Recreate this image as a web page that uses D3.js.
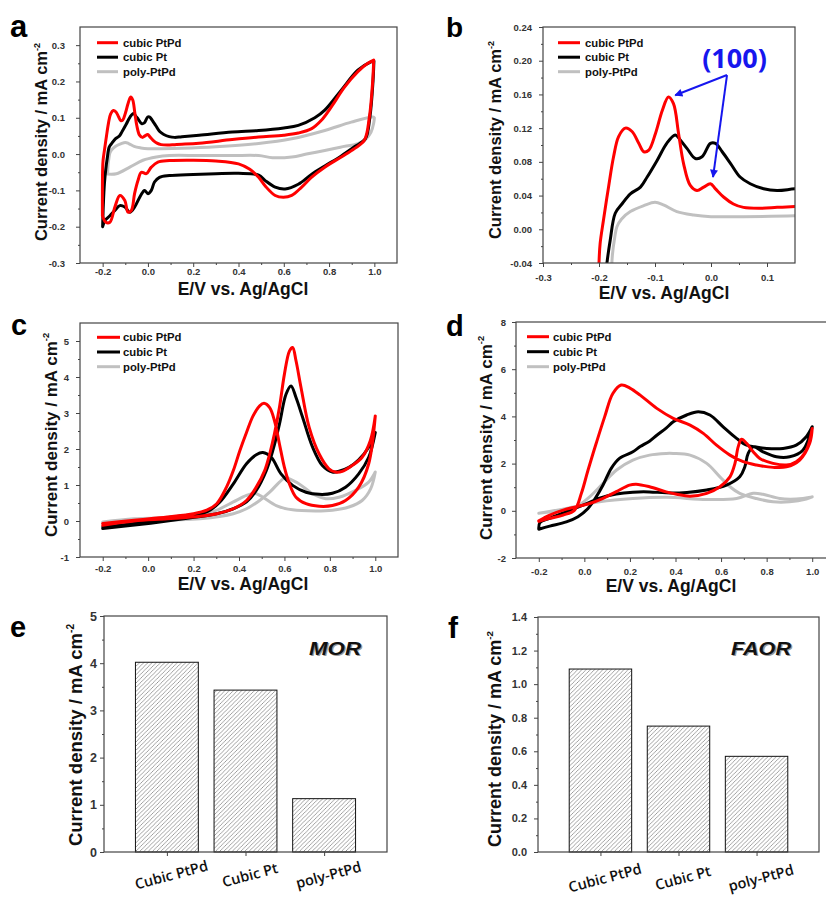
<!DOCTYPE html>
<html><head><meta charset="utf-8">
<script src="https://cdn.jsdelivr.net/npm/d3@7/dist/d3.min.js"></script>
<style>body{margin:0;background:#fff}svg{display:block}</style>
</head><body>
<svg id="fig" width="826" height="898"></svg>
<script>
// ================= DATA =================
const seriesNames = ["cubic PtPd", "cubic Pt", "poly-PtPd"];
const seriesColors = ["#ff0000", "#000000", "#c0c0c0"];

// (a)/(b) CV in acid: [E (V), j (mA cm-2)]
const hupdPtPdAnodic = [[-0.201,-0.17],[-0.201,-0.1],[-0.2,-0.04],[-0.198,-0.017],[-0.192,0.011],[-0.183,0.05],[-0.174,0.086],[-0.165,0.11],[-0.153,0.12],[-0.141,0.116],[-0.129,0.102],[-0.12,0.092],[-0.111,0.094],[-0.099,0.114],[-0.087,0.141],[-0.076,0.157],[-0.067,0.149],[-0.058,0.114],[-0.049,0.078],[-0.037,0.052],[-0.025,0.046],[-0.013,0.05],[-0.001,0.054],[0.008,0.048],[0.023,0.038],[0.04,0.03],[0.058,0.026],[0.088,0.025],[0.118,0.026],[0.15,0.027],[0.226,0.03],[0.372,0.04],[0.489,0.047],[0.6,0.052],[0.664,0.058],[0.723,0.07],[0.766,0.093],[0.81,0.13],[0.869,0.185],[0.927,0.227],[0.971,0.25],[0.997,0.259]];
const hupdPtPdCathodic = [[0.997,0.259],[0.993,0.204],[0.978,0.102],[0.956,0.038],[0.912,0.015],[0.854,-0.008],[0.781,-0.036],[0.722,-0.064],[0.679,-0.091],[0.635,-0.114],[0.598,-0.119],[0.562,-0.114],[0.518,-0.088],[0.489,-0.064],[0.45,-0.042],[0.4,-0.027],[0.3,-0.019],[0.2,-0.017],[0.095,-0.018],[0.044,-0.022],[0.015,-0.036],[-0.007,-0.054],[-0.029,-0.05],[-0.044,-0.073],[-0.059,-0.109],[-0.073,-0.155],[-0.088,-0.16],[-0.102,-0.128],[-0.124,-0.114],[-0.146,-0.146],[-0.168,-0.188],[-0.186,-0.188],[-0.201,-0.17]];
const hupdPtAnodic = [[-0.2,-0.2],[-0.197,-0.14],[-0.192,-0.08],[-0.186,-0.041],[-0.18,-0.013],[-0.171,0.019],[-0.159,0.03],[-0.144,0.042],[-0.126,0.05],[-0.114,0.062],[-0.096,0.082],[-0.079,0.102],[-0.064,0.112],[-0.055,0.106],[-0.043,0.096],[-0.028,0.084],[-0.016,0.086],[-0.001,0.102],[0.008,0.102],[0.02,0.092],[0.035,0.078],[0.052,0.062],[0.07,0.054],[0.094,0.048],[0.118,0.046],[0.15,0.048],[0.226,0.052],[0.372,0.061],[0.489,0.065],[0.6,0.072],[0.664,0.079],[0.737,0.1],[0.781,0.121],[0.854,0.176],[0.927,0.231],[0.985,0.254],[0.998,0.256]];
const hupdPtCathodic = [[0.998,0.256],[0.994,0.2],[0.98,0.1],[0.96,0.042],[0.912,0.02],[0.854,-0.005],[0.781,-0.033],[0.722,-0.056],[0.664,-0.083],[0.606,-0.096],[0.562,-0.091],[0.518,-0.073],[0.489,-0.058],[0.4,-0.053],[0.3,-0.054],[0.2,-0.056],[0.095,-0.059],[0.051,-0.064],[0.029,-0.077],[0.015,-0.1],[0.0,-0.109],[-0.015,-0.1],[-0.032,-0.114],[-0.059,-0.146],[-0.08,-0.16],[-0.102,-0.146],[-0.124,-0.142],[-0.146,-0.155],[-0.168,-0.17],[-0.19,-0.183],[-0.2,-0.2]];
const hupdPolyAnodic = [[-0.178,-0.055],[-0.176,-0.03],[-0.172,-0.01],[-0.168,0.003],[-0.16,0.012],[-0.144,0.021],[-0.12,0.028],[-0.1,0.032],[-0.085,0.029],[-0.061,0.021],[-0.031,0.017],[0.0,0.015],[0.058,0.015],[0.15,0.016],[0.3,0.02],[0.489,0.029],[0.635,0.042],[0.781,0.065],[0.898,0.088],[0.993,0.102],[1.0,0.1]];
const hupdPolyCathodic = [[1.0,0.1],[0.997,0.085],[0.985,0.06],[0.96,0.04],[0.927,0.029],[0.85,0.019],[0.781,0.01],[0.7,0.0],[0.635,-0.008],[0.55,-0.01],[0.489,-0.004],[0.372,-0.004],[0.226,-0.004],[0.095,-0.004],[0.037,-0.008],[-0.022,-0.017],[-0.08,-0.036],[-0.139,-0.054],[-0.178,-0.055]];

// (c) methanol oxidation CV
const morPtPdA = [[-0.2,-0.07],[-0.062,0.02],[0.084,0.11],[0.2,0.2],[0.258,0.3],[0.302,0.48],[0.345,0.94],[0.375,1.4],[0.404,1.96],[0.433,2.46],[0.462,2.92],[0.491,3.2],[0.51,3.27],[0.535,3.15],[0.556,2.79],[0.578,2.14],[0.6,1.49],[0.622,1.03],[0.651,0.66],[0.695,0.48],[0.753,0.41],[0.811,0.43],[0.869,0.57],[0.927,0.94],[0.971,1.59],[1.0,2.92]];
const morPtPdB = [[1.0,2.92],[0.978,2.23],[0.942,1.77],[0.898,1.54],[0.855,1.38],[0.825,1.36],[0.796,1.45],[0.753,1.86],[0.709,2.6],[0.673,3.71],[0.651,4.45],[0.636,4.82],[0.622,4.72],[0.6,4.08],[0.578,3.15],[0.556,2.42],[0.535,1.86],[0.513,1.4],[0.476,0.94],[0.433,0.57],[0.375,0.34],[0.302,0.2],[0.229,0.13],[0.084,0.06],[-0.062,0.0],[-0.2,-0.12]];
const morPtA = [[-0.2,-0.17],[-0.062,-0.07],[0.084,0.09],[0.2,0.18],[0.258,0.25],[0.316,0.53],[0.375,1.03],[0.433,1.59],[0.476,1.84],[0.505,1.9],[0.542,1.77],[0.585,1.31],[0.636,0.99],[0.695,0.8],[0.753,0.74],[0.811,0.77],[0.869,0.94],[0.927,1.31],[0.971,1.77],[1.0,2.46]];
const morPtB = [[1.0,2.46],[0.971,2.05],[0.927,1.7],[0.884,1.49],[0.84,1.38],[0.811,1.36],[0.767,1.54],[0.724,2.05],[0.68,2.88],[0.651,3.43],[0.629,3.75],[0.607,3.52],[0.578,2.69],[0.549,1.96],[0.52,1.4],[0.476,0.85],[0.433,0.53],[0.375,0.34],[0.302,0.2],[0.156,0.06],[0.011,-0.06],[-0.2,-0.21]];
const morPolyA = [[-0.2,-0.03],[-0.062,0.06],[0.084,0.09],[0.229,0.16],[0.302,0.3],[0.375,0.53],[0.433,0.71],[0.469,0.77],[0.505,0.66],[0.564,0.43],[0.636,0.31],[0.738,0.28],[0.811,0.3],[0.884,0.39],[0.942,0.57],[0.98,0.9],[1.0,1.36]];
const morPolyB = [[1.0,1.36],[0.971,1.08],[0.913,0.85],[0.84,0.66],[0.782,0.62],[0.724,0.76],[0.665,1.03],[0.622,1.17],[0.607,1.22],[0.578,1.08],[0.535,0.8],[0.491,0.57],[0.433,0.34],[0.375,0.2],[0.229,0.06],[0.084,0.02],[-0.2,-0.07]];

// (d) formic acid oxidation CV
const faorPtPdF = [[-0.2,-0.42],[-0.152,-0.18],[-0.093,0.03],[-0.035,0.17],[0.023,0.31],[0.082,0.53],[0.14,0.81],[0.198,1.09],[0.227,1.13],[0.286,1.02],[0.359,0.8],[0.405,0.7],[0.464,0.62],[0.537,0.74],[0.595,1.02],[0.639,1.44],[0.661,2.01],[0.675,2.71],[0.69,3.03],[0.712,2.86],[0.741,2.5],[0.77,2.22],[0.828,2.01],[0.887,1.94],[0.93,2.08],[0.974,2.57],[1.0,3.49]];
const faorPtPdB = [[1.0,3.49],[0.989,2.86],[0.945,2.15],[0.887,1.86],[0.828,1.84],[0.755,1.94],[0.697,2.08],[0.639,2.36],[0.58,2.78],[0.522,3.28],[0.464,3.63],[0.39,3.92],[0.318,4.34],[0.245,4.9],[0.2,5.2],[0.162,5.33],[0.125,4.97],[0.089,3.98],[0.052,2.86],[0.016,1.72],[-0.013,0.74],[-0.043,0.03],[-0.093,-0.18],[-0.152,-0.32],[-0.2,-0.45]];
const faorPtF = [[-0.2,-0.78],[-0.195,-0.5],[-0.152,-0.32],[-0.079,-0.04],[-0.006,0.24],[0.067,0.53],[0.14,0.71],[0.213,0.79],[0.286,0.8],[0.359,0.76],[0.45,0.78],[0.537,0.88],[0.624,1.09],[0.682,1.44],[0.704,1.86],[0.719,2.43],[0.741,2.71],[0.784,2.5],[0.843,2.29],[0.901,2.29],[0.959,2.57],[1.0,3.56]];
const faorPtB = [[1.0,3.56],[0.974,3.14],[0.93,2.78],[0.872,2.64],[0.8,2.64],[0.748,2.71],[0.712,2.78],[0.668,3.07],[0.609,3.56],[0.551,4.06],[0.5,4.2],[0.449,4.06],[0.39,3.77],[0.359,3.5],[0.318,3.2],[0.286,2.95],[0.245,2.72],[0.213,2.5],[0.154,2.22],[0.118,1.8],[0.082,1.09],[0.052,0.59],[0.016,0.1],[-0.028,-0.25],[-0.079,-0.47],[-0.152,-0.65],[-0.2,-0.78]];
const faorPolyF = [[-0.2,-0.1],[-0.079,0.1],[0.067,0.38],[0.213,0.52],[0.359,0.57],[0.537,0.48],[0.668,0.52],[0.741,0.74],[0.784,0.7],[0.858,0.52],[0.93,0.5],[1.0,0.59]];
const faorPolyB = [[1.0,0.59],[0.974,0.5],[0.901,0.38],[0.828,0.38],[0.755,0.52],[0.682,0.74],[0.639,1.02],[0.595,1.44],[0.537,2.01],[0.464,2.36],[0.39,2.43],[0.359,2.43],[0.286,2.36],[0.213,2.15],[0.14,1.72],[0.082,1.16],[0.023,0.59],[-0.035,0.17],[-0.093,0.03],[-0.2,-0.1]];

// (e)/(f) bar charts
const barCategories = ["Cubic PtPd", "Cubic Pt", "poly-PtPd"];
const morPeak = [4.02, 3.43, 1.13];
const faorPeak = [1.09, 0.75, 0.57];

// tick values
const xTicksCV = [-0.2, 0, 0.2, 0.4, 0.6, 0.8, 1.0];
const xMinorCV = [-0.1, 0.1, 0.3, 0.5, 0.7, 0.9];
const yTicksA = [-0.3, -0.2, -0.1, 0, 0.1, 0.2, 0.3];
const yMinorA = [-0.25, -0.15, -0.05, 0.05, 0.15, 0.25];
const xTicksB = [-0.3, -0.2, -0.1, 0, 0.1];
const xMinorB = [-0.25, -0.15, -0.05, 0.05];
const yTicksB = [-0.04, 0, 0.04, 0.08, 0.12, 0.16, 0.2, 0.24];
const yMinorB = [-0.02, 0.02, 0.06, 0.1, 0.14, 0.18, 0.22];
const yTicksC = [-1, 0, 1, 2, 3, 4, 5];
const yMinorC = [-0.5, 0.5, 1.5, 2.5, 3.5, 4.5];
const yTicksD = [-2, 0, 2, 4, 6, 8];
const yMinorD = [-1, 1, 3, 5, 7];
const yTicksE = [0, 1, 2, 3, 4, 5];
const yMinorE = [0.5, 1.5, 2.5, 3.5, 4.5];
const yTicksF = [0, 0.2, 0.4, 0.6, 0.8, 1.0, 1.2, 1.4];
const yMinorF = [0.1, 0.3, 0.5, 0.7, 0.9, 1.1, 1.3];

// annotation in (b): "(100)" label and arrow targets, in data coords
const annot100 = {label: "(100)", text: [0.042, 0.191], from: [0.0286, 0.183], to: [[-0.064, 0.159], [0.0036, 0.062]]};

// ================= DRAWING =================
const FONT = "'Liberation Sans', Arial, Helvetica, sans-serif";
const svg = d3.select("#fig");
const defs = svg.append("defs");

const hatch = defs.append("pattern").attr("id", "hatch").attr("patternUnits", "userSpaceOnUse")
  .attr("width", 4.2).attr("height", 4.2);
hatch.append("path").attr("d", "M-1,1 l2,-2 M0,4.2 l4.2,-4.2 M3.2,5.2 l2,-2")
  .attr("stroke", "#7a7a7a").attr("stroke-width", 0.7);

defs.append("marker").attr("id", "arrowBlue").attr("viewBox", "0 0 10 10")
  .attr("refX", 9).attr("refY", 5).attr("markerWidth", 6).attr("markerHeight", 4)
  .attr("orient", "auto").append("path").attr("d", "M0,0 L10,5 L0,10 z").attr("fill", "#1616ee");

const fmt1 = v => v.toFixed(1), fmt2 = v => v.toFixed(2), fmt0 = v => v.toFixed(0);

function styleAxis(sel, fs) {
  sel.select(".domain").remove();
  sel.selectAll("line").attr("stroke", "#444").attr("stroke-width", 1);
  sel.selectAll("text").style("font-family", FONT).style("font-weight", "bold")
    .style("font-size", fs + "px").attr("fill", "#333");
}

function frameAndAxes(g, o, x, y) {
  const xa = g.append("g").attr("transform", `translate(0,${o.bottom})`)
    .call(d3.axisBottom(x).tickValues(o.xTicks).tickSize(4).tickPadding(o.xPad).tickFormat(o.xFmt));
  styleAxis(xa, o.tickFont);
  if (o.xMinor) styleAxis(g.append("g").attr("transform", `translate(0,${o.bottom})`)
    .call(d3.axisBottom(x).tickValues(o.xMinor).tickSize(2).tickFormat("")), o.tickFont);
  const ya = g.append("g").attr("transform", `translate(${o.left},0)`)
    .call(d3.axisLeft(y).tickValues(o.yTicks).tickSize(4).tickPadding(o.yPad).tickFormat(o.yFmt));
  styleAxis(ya, o.yTickFont || o.tickFont);
  if (o.yMinor) styleAxis(g.append("g").attr("transform", `translate(${o.left},0)`)
    .call(d3.axisLeft(y).tickValues(o.yMinor).tickSize(2).tickFormat("")), o.tickFont);
  g.append("rect").attr("x", o.left).attr("y", o.top).attr("width", o.right - o.left)
    .attr("height", o.bottom - o.top).attr("fill", "none").attr("stroke", "#444").attr("stroke-width", 1.2);
  // y label
  const t = g.append("text").attr("transform", `translate(${o.ylabX},${o.ylabY}) rotate(-90)`)
    .attr("text-anchor", "middle").style("font-family", FONT).style("font-weight", "bold")
    .style("font-size", o.ylabFont + "px").attr("fill", "#111");
  t.append("tspan").text("Current density / mA cm");
  t.append("tspan").attr("dy", -o.ylabFont * 0.45).style("font-size", (o.ylabFont * 0.55) + "px").text("-2");
  // letter
  g.append("text").attr("x", o.letter[1]).attr("y", o.letter[2]).text(o.letter[0])
    .style("font-family", FONT).style("font-weight", "bold").style("font-size", o.letterFont + "px").attr("fill", "#000");
}

function cvPanel(o) {
  const x = d3.scaleLinear().domain(o.xDomain).range([o.left, o.right]);
  const y = d3.scaleLinear().domain(o.yDomain).range([o.bottom, o.top]);
  const g = svg.append("g");
  const cid = "clip-" + o.id;
  defs.append("clipPath").attr("id", cid).append("rect").attr("x", o.left).attr("y", o.top)
    .attr("width", o.right - o.left).attr("height", o.bottom - o.top);
  const line = d3.line().x(d => x(d[0])).y(d => y(d[1])).curve(d3.curveCatmullRom.alpha(0.5));
  const plot = g.append("g").attr("clip-path", `url(#${cid})`);
  // draw order: poly, Pt, PtPd (red on top)
  [2, 1, 0].forEach(i => {
    plot.append("path").attr("d", line(o.series[i])).attr("fill", "none")
      .attr("stroke", seriesColors[i]).attr("stroke-width", 3)
      .attr("stroke-linejoin", "round").attr("stroke-linecap", "round");
  });
  frameAndAxes(g, o, x, y);
  // x label
  g.append("text").attr("x", o.xlabX).attr("y", o.xlabY).attr("text-anchor", "middle")
    .text("E/V vs. Ag/AgCl").style("font-family", FONT).style("font-weight", "bold")
    .style("font-size", "17.5px").attr("fill", "#111");
  // legend
  const L = o.legend;
  seriesNames.forEach((nm, i) => {
    const yy = L.y0 + i * L.dy;
    g.append("line").attr("x1", L.x1).attr("x2", L.x2).attr("y1", yy).attr("y2", yy)
      .attr("stroke", seriesColors[i]).attr("stroke-width", 3);
    g.append("text").attr("x", L.tx).attr("y", yy).attr("dy", "0.36em").text(nm)
      .style("font-family", FONT).style("font-weight", "bold").style("font-size", "11.3px").attr("fill", "#111");
  });
  return {g, x, y};
}

function barPanel(o) {
  const x = d3.scaleLinear().domain([0.2, 3.8]).range([o.left, o.right]);
  const y = d3.scaleLinear().domain(o.yDomain).range([o.bottom, o.top]);
  const g = svg.append("g");
  g.selectAll("rect.bar").data(o.values).join("rect").attr("class", "bar")
    .attr("x", (d, i) => x(i + 1 - 0.4)).attr("width", x(1.4) - x(0.6))
    .attr("y", d => y(d)).attr("height", d => y(0) - y(d))
    .attr("fill", "url(#hatch)").attr("stroke", "#111").attr("stroke-width", 1);
  o.xTicks = [1, 2, 3];
  o.xFmt = i => barCategories[i - 1];
  frameAndAxes(g, o, x, y);
  // rotate category labels
  g.selectAll("g.tick text").filter(function () { return barCategories.includes(this.textContent); })
    .attr("y", 0).attr("dy", "0.35em").attr("transform", `translate(4,${o.catDy}) rotate(-15)`)
    .style("font-family", "'Open Sans', sans-serif").style("font-weight", "600")
    .style("font-size", "14.5px").attr("fill", "#111");
  // reaction label with light shadow
  [["#999", 1.3, 1.3], ["#111", 0, 0]].forEach(([c, dx, dy]) => {
    g.append("text").attr("x", o.tag.x + dx).attr("y", o.tag.y + dy).text(o.tag.text)
      .attr("textLength", o.tag.len).attr("lengthAdjust", "spacingAndGlyphs")
      .style("font-family", FONT).style("font-weight", "bold").style("font-style", "italic")
      .style("font-size", o.tag.fs + "px").attr("fill", c);
  });
}

// ---- panel a ----
cvPanel({
  id: "a", left: 80, right: 397, top: 27, bottom: 263,
  xDomain: [-0.3, 1.1], yDomain: [-0.3, 0.35],
  xTicks: xTicksCV, xMinor: xMinorCV, yTicks: yTicksA, yMinor: yMinorA,
  xFmt: fmt1, yFmt: fmt1, xPad: 1, yPad: 11, tickFont: 9.5,
  series: [hupdPtPdAnodic.concat(hupdPtPdCathodic), hupdPtAnodic.concat(hupdPtCathodic), hupdPolyAnodic.concat(hupdPolyCathodic)],
  ylabX: 47, ylabY: 142, ylabFont: 16.5, xlabX: 243, xlabY: 295,
  legend: {x1: 97, x2: 118, y0: 42.7, dy: 14.5, tx: 123},
  letter: ["a", 10, 37], letterFont: 31
});

// ---- panel b ----
const pb = cvPanel({
  id: "b", left: 543, right: 795, top: 27, bottom: 263,
  xDomain: [-0.3, 0.15], yDomain: [-0.04, 0.24],
  xTicks: xTicksB, xMinor: xMinorB, yTicks: yTicksB, yMinor: yMinorB,
  xFmt: fmt1, yFmt: fmt2, xPad: 7, yPad: 7, tickFont: 9.5,
  series: [hupdPtPdAnodic, hupdPtAnodic, hupdPolyAnodic],
  ylabX: 501, ylabY: 140, ylabFont: 16.5, xlabX: 664, xlabY: 299,
  legend: {x1: 558, x2: 580, y0: 42.7, dy: 14.5, tx: 585},
  letter: ["b", 446, 37], letterFont: 28
});
// (100) annotation
pb.g.append("text").attr("x", pb.x(annot100.text[0])).attr("y", pb.y(annot100.text[1]))
  .attr("text-anchor", "middle").text(annot100.label)
  .style("font-family", "'Open Sans', sans-serif").style("font-weight", "bold").style("font-size", "27px")
  .attr("fill", "#1616ee");
annot100.to.forEach(t => {
  pb.g.append("line").attr("x1", pb.x(annot100.from[0])).attr("y1", pb.y(annot100.from[1]))
    .attr("x2", pb.x(t[0])).attr("y2", pb.y(t[1])).attr("stroke", "#1616ee").attr("stroke-width", 2)
    .attr("marker-end", "url(#arrowBlue)");
});

// ---- panel c ----
cvPanel({
  id: "c", left: 80, right: 398, top: 323, bottom: 557,
  xDomain: [-0.3, 1.1], yDomain: [-1, 5.5],
  xTicks: xTicksCV, xMinor: xMinorCV, yTicks: yTicksC, yMinor: yMinorC,
  xFmt: fmt1, yFmt: fmt0, xPad: 4, yPad: 7, tickFont: 9.5,
  series: [morPtPdA.concat(morPtPdB), morPtA.concat(morPtB), morPolyA.concat(morPolyB)],
  ylabX: 57, ylabY: 435, ylabFont: 17, xlabX: 243, xlabY: 590,
  legend: {x1: 97, x2: 120, y0: 337.3, dy: 14.7, tx: 123},
  letter: ["c", 11, 335], letterFont: 29
});

// ---- panel d ----
cvPanel({
  id: "d", left: 516, right: 835, top: 322, bottom: 558,
  xDomain: [-0.3, 1.1], yDomain: [-2, 8],
  xTicks: xTicksCV, xMinor: xMinorCV, yTicks: yTicksD, yMinor: yMinorD,
  xFmt: fmt1, yFmt: fmt0, xPad: 6, yPad: 6, tickFont: 9.5,
  series: [faorPtPdF.concat(faorPtPdB), faorPtF.concat(faorPtB), faorPolyF.concat(faorPolyB)],
  ylabX: 492, ylabY: 438, ylabFont: 17, xlabX: 671, xlabY: 592,
  legend: {x1: 527, x2: 549, y0: 336.7, dy: 15, tx: 553},
  letter: ["d", 446, 336], letterFont: 29
});

// ---- panel e ----
barPanel({
  id: "e", left: 104, right: 387, top: 616, bottom: 852,
  yDomain: [0, 5], values: morPeak, yTicks: yTicksE, yMinor: yMinorE,
  yFmt: fmt0, xPad: 4, yPad: 3, tickFont: 12.5, catDy: 23,
  ylabX: 82, ylabY: 735, ylabFont: 18.5,
  tag: {text: "MOR", x: 309, y: 655, len: 52, fs: 19},
  letter: ["e", 10, 637], letterFont: 29
});

// ---- panel f ----
barPanel({
  id: "f", left: 538, right: 819, top: 617, bottom: 852,
  yDomain: [0, 1.4], values: faorPeak, yTicks: yTicksF, yMinor: yMinorF,
  yFmt: fmt1, xPad: 4, yPad: 7, tickFont: 11, catDy: 26,
  ylabX: 501, ylabY: 739, ylabFont: 18,
  tag: {text: "FAOR", x: 731, y: 655, len: 60, fs: 19},
  letter: ["f", 448, 638], letterFont: 30
});
</script>
</body></html>
